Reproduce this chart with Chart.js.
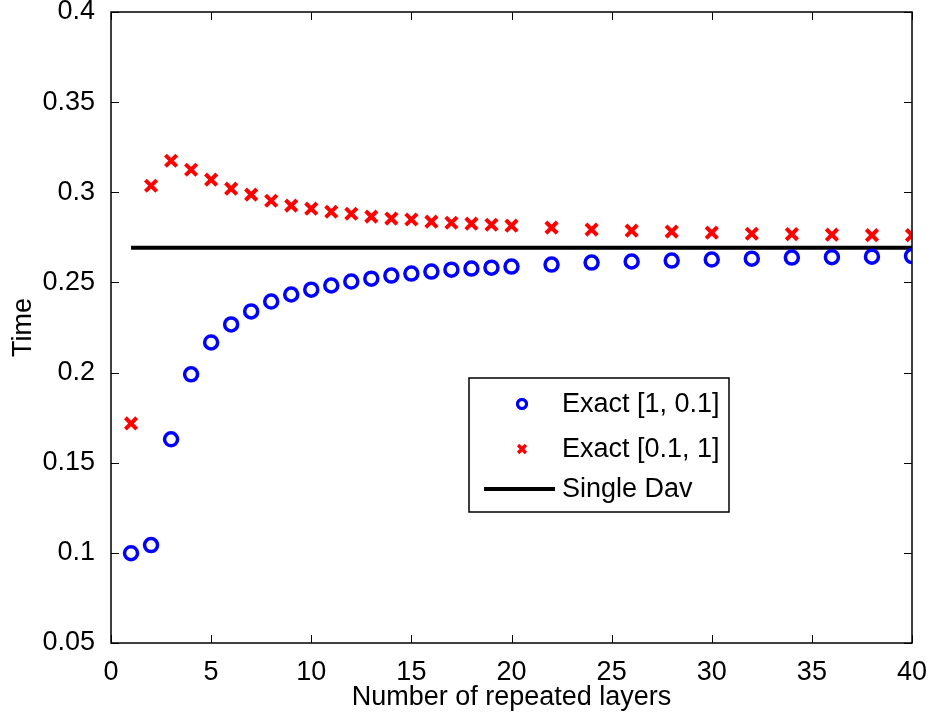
<!DOCTYPE html>
<html>
<head>
<meta charset="utf-8">
<script src="https://cdn.jsdelivr.net/npm/chart.js@4/dist/chart.umd.min.js"></script>
<style>
  html, body { margin: 0; padding: 0; background: #fff; }
  #wrap { width: 932px; height: 719px; }
</style>
</head>
<body>
<div id="wrap"><canvas id="timeChart" width="932" height="719"></canvas></div>
<script>
// layers and measured times
const layersA = [1, 2, 3, 4, 5, 6, 7, 8, 9, 10, 11, 12, 13, 14, 15, 16, 17, 18, 19, 20, 22, 24, 26, 28, 30, 32, 34, 36, 38, 40];
const exactA = [0.0998, 0.1043, 0.163, 0.199, 0.2167, 0.2267, 0.2339, 0.2394, 0.2433, 0.246, 0.2483, 0.2505, 0.2521, 0.2538, 0.2549,
  0.256, 0.2571, 0.2577, 0.2582, 0.2588, 0.2599, 0.261, 0.2616, 0.2621, 0.2627, 0.2632, 0.2638, 0.264, 0.2643, 0.2646];
const exactB = [0.1718, 0.3036, 0.3175, 0.3125, 0.307, 0.302, 0.2987, 0.2953, 0.2926, 0.2909, 0.2892, 0.2881, 0.2865, 0.2854, 0.2849,
  0.2837, 0.2831, 0.2826, 0.282, 0.2815, 0.2804, 0.2793, 0.2787, 0.2782, 0.2776, 0.277, 0.2768, 0.2765, 0.2762, 0.2762];
const singleX = [1, 40];
const singleY = [0.2693, 0.2693];
const xTicks = [0, 5, 10, 15, 20, 25, 30, 35, 40];
const yTicks = [0.05, 0.1, 0.15, 0.2, 0.25, 0.3, 0.35, 0.4];

const FONT = '"Liberation Sans", Arial, sans-serif';

const pts = (xs, ys) => xs.map((x, i) => ({ x: x, y: ys[i] }));

// frame, inward ticks on all four sides, and the boxed legend
const framePlugin = {
  id: 'frame',
  afterDraw(chart) {
    const ctx = chart.ctx;
    const a = chart.chartArea;
    const xs = chart.scales.x, ys = chart.scales.y;
    ctx.save();
    ctx.strokeStyle = '#000';
    ctx.lineWidth = 1;
    ctx.beginPath();
    xTicks.forEach(v => {
      const px = Math.round(xs.getPixelForValue(v)) + 0.5;
      ctx.moveTo(px, a.bottom); ctx.lineTo(px, a.bottom - 8);
      ctx.moveTo(px, a.top); ctx.lineTo(px, a.top + 8);
    });
    yTicks.forEach(v => {
      const py = Math.round(ys.getPixelForValue(v)) + 0.5;
      ctx.moveTo(a.left, py); ctx.lineTo(a.left + 8, py);
      ctx.moveTo(a.right, py); ctx.lineTo(a.right - 8, py);
    });
    ctx.stroke();
    ctx.lineWidth = 1.5;
    ctx.strokeRect(a.left, a.top, a.right - a.left, a.bottom - a.top);

    // legend
    const lx = 469, ly = 378, lw = 260, lh = 134;
    ctx.fillStyle = '#fff';
    ctx.fillRect(lx, ly, lw, lh);
    ctx.lineWidth = 1.5;
    ctx.strokeRect(lx, ly, lw, lh);
    ctx.font = '27px ' + FONT;
    ctx.textBaseline = 'middle';
    ctx.textAlign = 'left';
    const ds = chart.data.datasets;
    const rows = [404, 449, 489];
    ctx.strokeStyle = ds[0].borderColor;
    ctx.lineWidth = 3;
    Chart.helpers.drawPoint(ctx, { pointStyle: 'circle', radius: 4.5, rotation: 0, borderWidth: 3 }, 522, rows[0]);
    ctx.stroke();
    ctx.strokeStyle = ds[1].borderColor;
    ctx.lineWidth = 3.5;
    Chart.helpers.drawPoint(ctx, { pointStyle: 'crossRot', radius: 5.5, rotation: 0, borderWidth: 3.5 }, 522, rows[1]);
    ctx.strokeStyle = ds[2].borderColor;
    ctx.lineWidth = 4;
    ctx.beginPath();
    ctx.moveTo(484, rows[2]); ctx.lineTo(555, rows[2]);
    ctx.stroke();
    ctx.fillStyle = '#000';
    ds.forEach((d, i) => ctx.fillText(d.label, 562, rows[i] + 1));
    ctx.restore();
  }
};

new Chart(document.getElementById('timeChart'), {
  type: 'scatter',
  data: {
    datasets: [{
      label: 'Exact [1, 0.1]',
      data: pts(layersA, exactA),
      pointStyle: 'circle',
      pointRadius: 6.5,
      pointBorderWidth: 3.5,
      borderColor: '#0000ff',
      backgroundColor: 'rgba(0,0,0,0)',
      showLine: false
    }, {
      label: 'Exact [0.1, 1]',
      data: pts(layersA, exactB),
      pointStyle: 'crossRot',
      pointRadius: 8,
      pointBorderWidth: 4,
      borderColor: '#ff0000',
      backgroundColor: '#ff0000',
      showLine: false
    }, {
      label: 'Single Dav',
      data: pts(singleX, singleY),
      showLine: true,
      pointRadius: 0,
      borderColor: '#000',
      borderWidth: 4
    }]
  },
  options: {
    responsive: false,
    animation: false,
    layout: { padding: { left: 0, right: 20, top: 10, bottom: 0 } },
    plugins: { legend: { display: false }, tooltip: { enabled: false } },
    scales: {
      x: {
        type: 'linear', min: 0, max: 40,
        afterFit: s => { s.height = 76; s.paddingLeft = 0; s.paddingRight = 0; },
        afterBuildTicks: s => { s.ticks = xTicks.map(v => ({ value: v })); },
        grid: { display: false },
        border: { display: false },
        ticks: { color: '#000', font: { family: FONT, size: 27 }, padding: 5, maxRotation: 0 },
        title: { display: true, text: 'Number of repeated layers', color: '#000', font: { family: FONT, size: 27 }, padding: { top: 0, bottom: 5 } }
      },
      y: {
        type: 'linear', min: 0.05, max: 0.4,
        afterFit: s => { s.width = 111; s.paddingTop = 0; s.paddingBottom = 0; },
        afterBuildTicks: s => { s.ticks = yTicks.map(v => ({ value: v })); },
        grid: { display: false },
        border: { display: false },
        ticks: {
          color: '#000', font: { family: FONT, size: 27 }, padding: 8,
          callback: v => String(Number(v.toFixed(2)))
        },
        title: { display: true, text: 'Time', color: '#000', font: { family: FONT, size: 27 }, padding: { top: 7, bottom: 0 } }
      }
    }
  },
  plugins: [framePlugin]
});
</script>
</body>
</html>
